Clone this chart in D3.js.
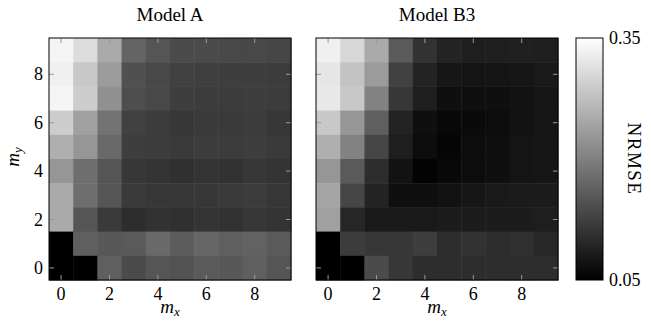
<!DOCTYPE html>
<html>
<head>
<meta charset="utf-8">
<script src="https://cdn.jsdelivr.net/npm/d3@7"></script>
<style>
  html, body { margin: 0; padding: 0; background: #fff; }
  svg { display: block; font-family: "Liberation Serif", "DejaVu Serif", serif; }
</style>
</head>
<body>
<svg id="chart" width="651" height="330"></svg>
<script>
// ─── Data ───────────────────────────────────────────────────────────────────

const mxValues = [0, 1, 2, 3, 4, 5, 6, 7, 8, 9];
const myValues = [0, 1, 2, 3, 4, 5, 6, 7, 8, 9];
const tickValues = [0, 2, 4, 6, 8];
const titles = ['Model A', 'Model B3'];
const colorDomain = [0.05, 0.35];

// rows listed from m_y = 9 (top) down to m_y = 0
const nrmseA = [
  [0.338, 0.309, 0.250, 0.168, 0.150, 0.138, 0.138, 0.135, 0.135, 0.132],
  [0.332, 0.285, 0.232, 0.144, 0.135, 0.126, 0.124, 0.123, 0.123, 0.121],
  [0.338, 0.291, 0.221, 0.142, 0.135, 0.123, 0.121, 0.121, 0.123, 0.121],
  [0.291, 0.238, 0.185, 0.126, 0.121, 0.115, 0.118, 0.118, 0.121, 0.115],
  [0.256, 0.226, 0.174, 0.123, 0.121, 0.118, 0.121, 0.121, 0.123, 0.118],
  [0.226, 0.179, 0.150, 0.115, 0.111, 0.106, 0.111, 0.109, 0.115, 0.111],
  [0.250, 0.179, 0.150, 0.118, 0.115, 0.115, 0.115, 0.118, 0.121, 0.115],
  [0.250, 0.150, 0.118, 0.103, 0.109, 0.106, 0.111, 0.109, 0.115, 0.111],
  [0.040, 0.162, 0.154, 0.156, 0.174, 0.158, 0.170, 0.162, 0.165, 0.156],
  [0.040, 0.040, 0.162, 0.138, 0.150, 0.147, 0.156, 0.154, 0.162, 0.150],
];

const nrmseB3 = [
  [0.332, 0.303, 0.250, 0.156, 0.109, 0.091, 0.085, 0.085, 0.088, 0.085],
  [0.321, 0.279, 0.232, 0.126, 0.091, 0.076, 0.074, 0.074, 0.076, 0.079],
  [0.323, 0.285, 0.203, 0.115, 0.085, 0.068, 0.068, 0.068, 0.071, 0.076],
  [0.285, 0.226, 0.162, 0.091, 0.068, 0.059, 0.062, 0.064, 0.071, 0.076],
  [0.256, 0.203, 0.132, 0.085, 0.064, 0.056, 0.064, 0.068, 0.074, 0.076],
  [0.226, 0.156, 0.103, 0.071, 0.054, 0.059, 0.064, 0.068, 0.074, 0.076],
  [0.244, 0.132, 0.091, 0.068, 0.068, 0.071, 0.076, 0.079, 0.082, 0.083],
  [0.238, 0.095, 0.079, 0.079, 0.079, 0.083, 0.083, 0.083, 0.083, 0.085],
  [0.040, 0.121, 0.115, 0.115, 0.123, 0.103, 0.109, 0.103, 0.106, 0.097],
  [0.040, 0.040, 0.138, 0.115, 0.103, 0.103, 0.103, 0.103, 0.103, 0.103],
];

// ─── Setup ──────────────────────────────────────────────────────────────────

const svg = d3.select('#chart');
const panelSize = 242;
const panelTop = 38;
const panelLefts = [49, 316];
const datasets = [nrmseA, nrmseB3];
const labelSize = 18;

const color = d3.scaleLinear().domain(colorDomain).range(['#000', '#fff']).clamp(true);

const x = d3.scaleBand().domain(mxValues).range([0, panelSize]).padding(0);
const y = d3.scaleBand().domain(myValues).range([panelSize, 0]).padding(0);
const tickPos = d3.scaleLinear().domain([-0.5, 9.5]).range([0, panelSize]);
const tickPosY = d3.scaleLinear().domain([-0.5, 9.5]).range([panelSize, 0]);

// ─── Panels ─────────────────────────────────────────────────────────────────

datasets.forEach((rows, p) => {
  const g = svg.append('g').attr('transform', `translate(${panelLefts[p]},${panelTop})`);

  const cells = [];
  rows.forEach((row, r) => {
    row.forEach((v, c) => cells.push({ mx: mxValues[c], my: myValues[9 - r], v }));
  });

  g.selectAll('rect.cell').data(cells).join('rect')
    .attr('class', 'cell')
    .attr('x', d => x(d.mx)).attr('y', d => y(d.my))
    .attr('width', x.bandwidth() + 0.5).attr('height', y.bandwidth() + 0.5)
    .attr('fill', d => color(d.v));

  // inward tick marks on all four sides
  const tickColor = '#9a9a9a';
  tickValues.forEach(t => {
    const tx = tickPos(t), ty = tickPosY(t);
    g.append('line').attr('x1', tx).attr('x2', tx).attr('y1', panelSize).attr('y2', panelSize - 5)
      .attr('stroke', tickColor);
    g.append('line').attr('x1', tx).attr('x2', tx).attr('y1', 0).attr('y2', 5)
      .attr('stroke', tickColor);
    g.append('line').attr('y1', ty).attr('y2', ty).attr('x1', 0).attr('x2', 5)
      .attr('stroke', tickColor);
    g.append('line').attr('y1', ty).attr('y2', ty).attr('x1', panelSize).attr('x2', panelSize - 5)
      .attr('stroke', tickColor);
  });

  g.append('rect').attr('width', panelSize).attr('height', panelSize)
    .attr('fill', 'none').attr('stroke', '#000').attr('stroke-width', 1);

  // bottom tick labels
  g.selectAll('text.xt').data(tickValues).join('text')
    .attr('class', 'xt')
    .attr('x', d => tickPos(d)).attr('y', panelSize + 20)
    .attr('text-anchor', 'middle').attr('font-size', labelSize)
    .text(d => d);

  // x label
  const xl = g.append('text').attr('x', panelSize / 2).attr('y', panelSize + 33)
    .attr('text-anchor', 'middle').attr('font-size', 19);
  xl.append('tspan').attr('font-style', 'italic').text('m');
  xl.append('tspan').attr('font-style', 'italic').attr('font-size', 13).attr('dy', 3).text('x');

  // title
  g.append('text').attr('x', panelSize / 2).attr('y', -17)
    .attr('text-anchor', 'middle').attr('font-size', 19)
    .text(titles[p]);

  if (p === 0) {
    g.selectAll('text.yt').data(tickValues).join('text')
      .attr('class', 'yt')
      .attr('x', -6).attr('y', d => tickPosY(d) + 6)
      .attr('text-anchor', 'end').attr('font-size', labelSize)
      .text(d => d);

    const yl = g.append('text')
      .attr('transform', `translate(-30,${panelSize / 2 - 2}) rotate(-90)`)
      .attr('text-anchor', 'middle').attr('font-size', 19);
    yl.append('tspan').attr('font-style', 'italic').text('m');
    yl.append('tspan').attr('font-style', 'italic').attr('font-size', 13).attr('dy', 3).text('y');
  }
});

// ─── Colorbar ───────────────────────────────────────────────────────────────

const cbX = 576, cbW = 27;
const cbScale = d3.scaleLinear().domain(colorDomain).range([panelTop + panelSize, panelTop]);

const grad = svg.append('defs').append('linearGradient')
  .attr('id', 'cbgrad').attr('x1', 0).attr('x2', 0).attr('y1', 1).attr('y2', 0);
grad.selectAll('stop').data(colorDomain).join('stop')
  .attr('offset', (d, i) => i)
  .attr('stop-color', d => color(d));

svg.append('rect')
  .attr('x', cbX).attr('y', cbScale(colorDomain[1]))
  .attr('width', cbW).attr('height', cbScale(colorDomain[0]) - cbScale(colorDomain[1]))
  .attr('fill', 'url(#cbgrad)').attr('stroke', '#000').attr('stroke-width', 1);

svg.selectAll('text.cb').data(colorDomain).join('text')
  .attr('class', 'cb')
  .attr('x', cbX + cbW + 6).attr('y', d => cbScale(d) + 6)
  .attr('font-size', labelSize)
  .text(d => d3.format('.2f')(d));

svg.append('text')
  .attr('transform', `translate(${cbX + cbW + 25},${panelTop + panelSize / 2}) rotate(90)`)
  .attr('text-anchor', 'middle').attr('font-size', 19).attr('letter-spacing', 1.5)
  .text('NRMSE');
</script>
</body>
</html>
